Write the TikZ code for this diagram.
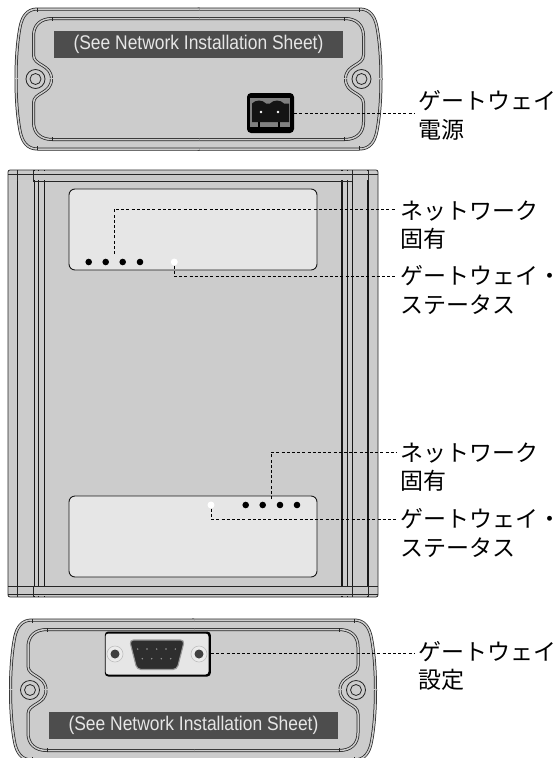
\documentclass[tikz,border=0pt]{standalone}
\usepackage{fontspec}
\setmainfont{Liberation Sans}
\newfontfamily\narrowfont[FakeStretch=0.88]{Liberation Sans}
\newfontfamily\jpfont{Noto Sans CJK JP}
\usetikzlibrary{calc}
\definecolor{bodygray}{HTML}{CCCCCC}
\definecolor{plategray}{HTML}{E6E6E6}
\definecolor{bargray}{HTML}{4D4D4D}
\tikzset{
  edge/.style={draw=black!85,line width=0.8pt},
  dbl/.style={draw=black!85,line width=0.75pt,double=bodygray,double distance=1.5pt},
  plate/.style={fill=plategray,draw=black!90,line width=0.9pt,rounded corners=6pt},
  sheetbar/.style={fill=bargray,text=plategray,font=\narrowfont\fontsize{19.8}{22}\selectfont,inner sep=0pt},
  led/.style={circle,fill=black,inner sep=0pt,minimum size=6.6pt},
  ledwhite/.style={circle,fill=white,inner sep=0pt,minimum size=7pt},
  lab/.style={font=\jpfont\fontsize{23}{28.5}\selectfont,align=left,anchor=north west,inner sep=0pt},
  leader/.style={draw=black,line width=1pt,dash pattern=on 3pt off 2.2pt},
  pin/.style={circle,fill=#1,inner sep=0pt,minimum size=1.6pt},
}
\newcommand{\quadrantpaths}{%
  \fill[bodygray] (-1,-71) -- (161,-71) .. controls (172,-71) and (176,-62) .. (178,-54)
     .. controls (181,-40) and (183.5,-20) .. (183.5,1) -- (-1,1) -- cycle;
  \draw[dbl] (-1,-70) -- (161,-70) .. controls (172,-70) and (176,-62) .. (178,-54)
     .. controls (181,-40) and (182.5,-20) .. (182.5,0);
  \draw[edge,line width=0.5pt] (161,-71) -- (161,-67);
  \draw[dbl] (-1,-60.5) -- (146,-60.5) .. controls (158,-60.5) and (165,-54) .. (165,-43)
     -- (165,-24) .. controls (165,-13) and (147,-15) .. (147,0);
  \draw[edge,line width=0.5pt] (146,-62) -- (146,-58);
}
\newcommand{\panelbody}[2]{%
  \begin{scope}[shift={(#1,#2)}]
    \begin{scope}\quadrantpaths\end{scope}
    \begin{scope}[xscale=-1]\quadrantpaths\end{scope}
    \begin{scope}[yscale=-1]\quadrantpaths\end{scope}
    \begin{scope}[xscale=-1,yscale=-1]\quadrantpaths\end{scope}
    \foreach \s in {-1,1}{
      \draw[edge,fill=bodygray] (\s*163,0) circle (9.5);
      \draw[edge,fill=bodygray] (\s*163,0) circle (5.5);
    }
  \end{scope}
}
\begin{document}
\begin{tikzpicture}[x=1pt,y=-1pt]
\useasboundingbox (0,0) rectangle (558,758);
\clip (0,0) rectangle (558,758);

% top panel
\panelbody{198.5}{79}
\node[sheetbar,minimum width=289pt,minimum height=27pt] (barTop) at (198.5,44.5) {(See Network Installation Sheet)};

% power connector
\node[fill=black,rounded corners=4pt,minimum width=47pt,minimum height=40pt,inner sep=0pt] (power) at (270.5,113) {};
\fill[black!50] (250,98) rectangle (290,127);
\fill[black!92] (252,103.5) .. controls (256,99.5) and (262,99.5) .. (266,103.5)
   -- (270,103.5) .. controls (274,99.5) and (280,99.5) .. (284,103.5) -- (289,103.5) -- (289,122) -- (252,122) -- cycle;
\draw[black,line width=1.2pt] (259,122) -- (259,127) (279,122) -- (279,127);
\node[pin=white,minimum size=2.6pt] (pw1) at (261,112) {};
\node[pin=white,minimum size=2.6pt] (pw2) at (278,112) {};

% centre body
\fill[bodygray] (8,172) arc[start angle=180,end angle=270,radius=2] -- (376,170) arc[start angle=-90,end angle=0,radius=2] -- (378,595) arc[start angle=0,end angle=90,radius=2] -- (10,597) arc[start angle=90,end angle=180,radius=2] -- cycle;
\draw[edge] (8,172) arc[start angle=180,end angle=270,radius=2] -- (376,170) arc[start angle=-90,end angle=0,radius=2] -- (378,595) arc[start angle=0,end angle=90,radius=2] -- (10,597) arc[start angle=90,end angle=180,radius=2] -- cycle;
\foreach \x/\w in {17/0.9,34/0.9,38.5/1.2,44/0.7,342/1.2,347/0.6,352/0.6,368/1.3}{
  \draw[black!90,line width=\w pt] (\x,170) -- (\x,597);
}
\fill[bodygray!106!white] (9,171) rectangle (377,180);
\fill[bodygray!106!white] (9,586) rectangle (377,596);
\draw[edge] (8,174) -- (378,174);
\draw[edge] (33,181) -- (352,181) (33,586) -- (352,586) ;
\draw[edge] (8,586) -- (378,586) (8,594.5) -- (378,594.5);
\foreach \x in {17,33,352,368}{
  \draw[edge,line width=0.7pt] (\x,170) -- (\x,181);
  \draw[edge,line width=0.7pt] (\x,586) -- (\x,597);
}
\node[plate,minimum width=248pt,minimum height=81pt,inner sep=0pt] (plateTop) at (193,229.5) {};
\node[plate,minimum width=248pt,minimum height=81pt,inner sep=0pt] (plateBottom) at (193,536.5) {};

% LEDs
\node[led] (a1) at (88.7,262) {};
\node[led] (a2) at (105.7,262) {};
\node[led] (a3) at (122.7,262) {};
\node[led] (a4) at (140,262) {};
\node[ledwhite] (aw) at (174.3,262) {};
\node[led] (b1) at (245.7,505) {};
\node[led] (b2) at (262.7,505) {};
\node[led] (b3) at (280,505) {};
\node[led] (b4) at (297,505) {};
\node[ledwhite] (bw) at (211,505) {};

% bottom panel
\panelbody{193}{690}
\node[sheetbar,minimum width=289pt,minimum height=27pt] (barBottom) at (193.5,725.5) {(See Network Installation Sheet)};

% D-sub connector
\node[fill=black,rounded corners=3.5pt,minimum width=106pt,minimum height=45pt,inner sep=0pt] (dsubback) at (157.8,654) {};
\node[fill=plategray,rounded corners=3pt,minimum width=103pt,minimum height=41pt,inner sep=0pt] (dsub) at (157,654) {};
\foreach \n/\x in {s1/115,s2/199}{
  \draw[black!25,fill=white!92!black,line width=0.6pt] (\x,654) circle (8);
  \node[circle,fill=black!75,inner sep=0pt,minimum size=9pt] (\n) at (\x,654) {};
}
\draw[black!40,fill=black!82,line width=1.1pt,rounded corners=4pt] (129.5,640) -- (184.5,640) -- (177,669.5) -- (137,669.5) -- cycle;
\foreach \x in {137.7,147,156.7,166,175.3}{ \node[pin=black!40] at (\x,649) {}; }
\foreach \x in {142.3,151.7,161.3,170.7}{ \node[pin=black!40] at (\x,658.7) {}; }

% labels
\node[lab] (lGwPower) at (418,90.5) {ゲートウェイ\\電源};
\node[lab] (lNetA) at (400,200.5) {ネットワーク\\固有};
\node[lab] (lStatA) at (400,265.5) {ゲートウェイ・\\ステータス};
\node[lab] (lNetB) at (400,442.5) {ネットワーク\\固有};
\node[lab] (lStatB) at (400,508.5) {ゲートウェイ・\\ステータス};
\node[lab] (lGwCfg) at (418,641) {ゲートウェイ\\設定};

% leaders
\coordinate (aStart) at ($(a2)!.5!(a3)+(0,-8)$);
\coordinate (bStart) at ($(b2)!.5!(b3)+(0,-6)$);
\draw[leader] (power.east) -- ([xshift=-4pt]power.east -| lGwPower.west);
\draw[leader] (aStart) |- ([xshift=-4pt]lNetA.north west |- 0,209);
\draw[leader] (aw) |- ([xshift=-4pt]lStatA.north west |- 0,276.5);
\draw[leader] (bStart) |- ([xshift=-4pt]lNetB.north west |- 0,452);
\draw[leader] (bw) |- ([xshift=-4pt]lStatB.north west |- 0,519);
\draw[leader] (dsubback.east) ++(0,-1) -- ([xshift=-4pt]lGwCfg.north west |- 0,653);
\end{tikzpicture}
\end{document}
